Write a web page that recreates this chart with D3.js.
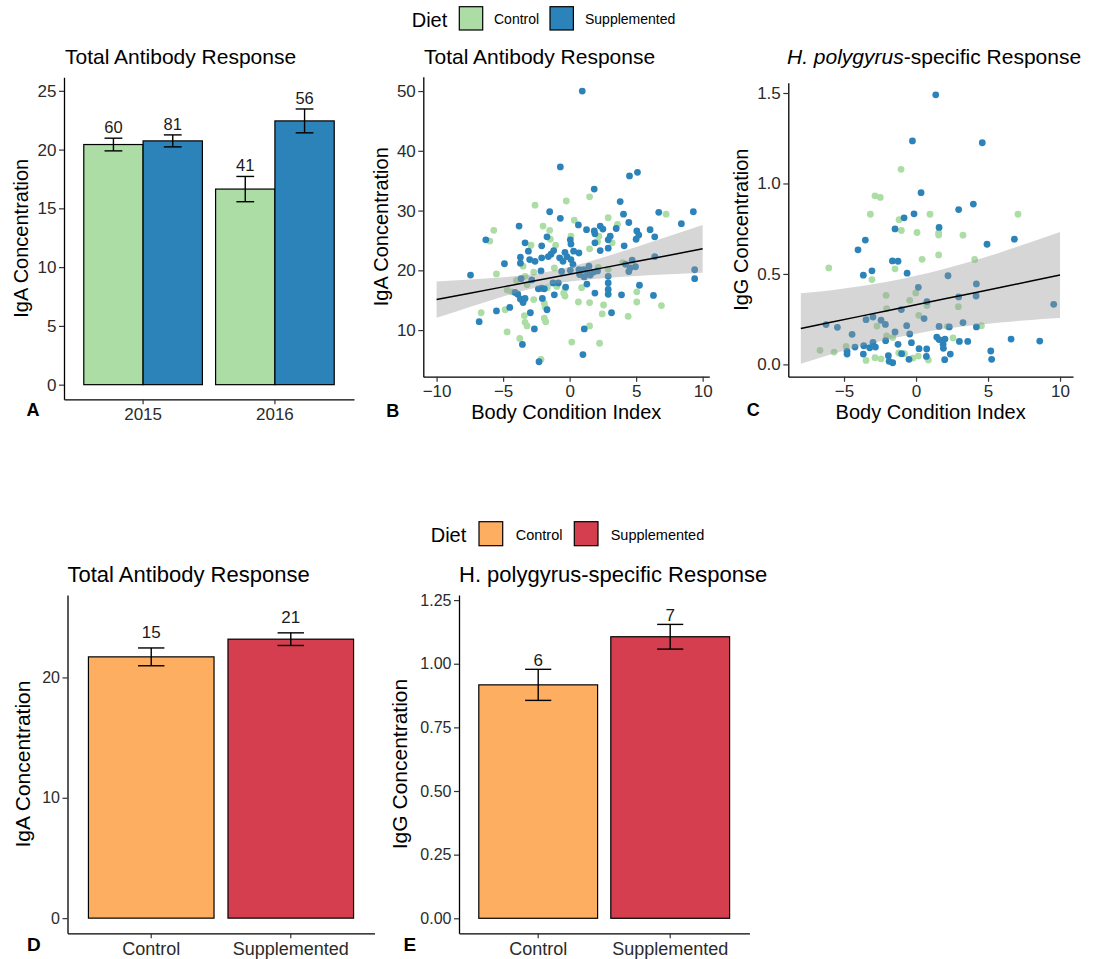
<!DOCTYPE html>
<html>
<head>
<meta charset="utf-8">
<script src="https://cdn.jsdelivr.net/npm/d3@7"></script>
<style>
  html, body { margin: 0; padding: 0; background: #fff; }
  svg text { font-family: "Liberation Sans", Arial, Helvetica, sans-serif; }
</style>
</head>
<body>
<svg id="fig" width="1093" height="959"></svg>
<script>
// ---------------- data ----------------
const years = ["2015", "2016"];
const diets = ["Control", "Supplemented"];

// Panel A: lab IgA by year and diet
const igaControlMean = [20.43, 16.64];
const igaControlSE   = [0.54, 1.075];
const igaControlN    = [60, 41];
const igaSuppMean    = [20.74, 22.44];
const igaSuppSE      = [0.51, 1.015];
const igaSuppN       = [81, 56];

// Panel B: IgA vs body condition index  [BCI, IgA]
const scatterIgaControl = [
  [-5.7,26.7],[-6.0,24.9],[-2.6,30.9],[-0.25,31.6],[1.5,32.3],[0.35,28.4],[2.9,28.8],[3.6,27.7],
  [7.25,29.4],[-2.0,27.4],[-1.5,26.7],[-1.45,25.2],[0.1,25.7],[2.2,25.7],[3.2,24.6],[-2.9,24.2],
  [-1.05,24.2],[1.5,23.6],[-1.15,20.4],[-2.7,19.7],[-3.35,19.0],[-5.5,19.4],[2.9,20.2],[4.0,21.3],
  [-4.0,18.3],[-3.2,17.6],[-1.67,17.1],[-0.96,17.3],[0.9,17.1],[-4.7,16.7],[-4.35,16.4],[-0.45,16.2],
  [-0.35,15.7],[-2.7,15.1],[-1.9,14.5],[-1.85,13.9],[0.66,14.7],[1.5,14.6],[2.55,14.2],[5.05,16.4],
  [5.05,14.7],[6.9,14.1],[-6.65,12.9],[-4.85,13.4],[-3.4,12.4],[-3.35,11.3],[-3.2,10.7],[-1.9,12.0],
  [-1.8,11.4],[2.45,12.7],[4.4,12.3],[1.5,10.7],[-4.7,9.7],[-3.75,8.6],[0.16,8.0],[2.25,7.8],
  [-2.15,5.1],[-3.5,20.7],[2.15,20.5],[-0.34,16.9],[2.1,24.8]
];
const scatterIgaSupp = [
  [0.95,50.0],[-0.7,37.3],[4.5,35.8],[5.1,36.4],[1.85,33.6],[3.8,31.5],[-1.5,29.8],[4.05,29.4],
  [6.7,29.7],[9.3,29.8],[-0.7,28.7],[4.45,28.0],[0.66,27.6],[8.4,27.8],[-3.8,27.4],[1.27,26.8],
  [1.85,26.6],[2.3,27.4],[2.5,26.9],[3.5,27.0],[6.05,26.8],[5.05,26.6],[5.2,25.9],[5.0,25.2],
  [6.4,25.6],[-6.3,25.1],[-1.7,25.6],[0.05,25.1],[0.1,24.4],[1.9,26.1],[1.9,24.6],[3.05,25.7],
  [2.9,25.1],[-3.35,24.6],[-2.1,24.1],[-1.2,23.3],[-1.4,22.7],[-3.1,23.2],[2.3,23.3],[2.9,23.7],
  [4.1,24.1],[0.3,23.2],[0.7,22.9],[-0.35,23.0],[6.4,22.3],[-3.7,22.2],[-3.0,21.8],[-2.6,21.5],
  [-2.1,22.1],[-1.6,22.3],[-0.75,22.1],[-0.2,22.3],[0.1,21.8],[-0.5,21.5],[0.25,21.0],[-4.9,21.1],
  [-3.7,21.2],[-7.45,19.2],[-2.15,19.9],[-0.6,19.8],[0.05,20.0],[0.7,20.1],[1.05,20.1],[1.45,20.7],
  [1.35,19.6],[1.55,19.2],[1.8,19.7],[2.1,19.9],[1.1,18.9],[0.75,19.3],[4.2,21.0],[4.55,20.4],
  [4.7,21.7],[4.95,20.6],[4.45,19.8],[2.9,19.0],[2.9,17.9],[2.9,16.8],[2.9,16.0],[5.25,17.5],
  [9.4,20.1],[9.4,18.6],[-3.65,18.6],[-2.85,18.4],[-1.25,17.9],[-0.85,17.9],[-0.3,17.2],[1.3,17.7],
  [1.9,16.2],[-4.1,16.3],[-3.9,16.0],[-2.35,16.9],[-2.1,17.0],[-1.9,16.9],[-1.15,15.9],[-3.7,15.2],
  [-3.5,14.6],[-3.35,15.3],[-2.05,15.3],[-1.7,13.4],[3.9,15.9],[6.3,15.8],[-5.5,13.2],[-4.5,13.8],
  [-2.95,12.9],[3.15,12.9],[-6.8,11.4],[-2.65,10.2],[1.1,10.2],[-3.55,7.6],[1.0,5.9],[-2.3,4.7]
];
// linear fit with 95% band for panel B
const igaFitX  = [-10, -7.5, -5, -2.5, 0, 2.5, 5, 7.5, 10];
const igaFitY  = [15.1, 16.16, 17.23, 18.29, 19.35, 20.41, 21.48, 22.54, 23.6];
const igaFitLo = [12.05, 13.87, 15.62, 17.14, 18.14, 18.68, 19.04, 19.33, 19.6];
const igaFitHi = [18.15, 18.45, 18.84, 19.44, 20.56, 22.14, 23.92, 25.75, 27.6];

// Panel C: H. polygyrus-specific IgG vs body condition index  [BCI, IgG]
const scatterIggControl = [
  [-1.04,1.078],[-2.85,0.932],[-2.48,0.923],[-3.17,0.83],[0.97,0.83],[7.08,0.83],[-1.18,0.80],
  [-1.02,0.74],[0.07,0.729],[1.57,0.727],[1.57,0.715],[3.26,0.714],[1.57,0.605],[0.42,0.581],
  [4.07,0.58],[-6.06,0.533],[-1.46,0.528],[-3.06,0.469],[-2.08,0.382],[-0.02,0.395],[-0.44,0.354],
  [0.76,0.325],[2.94,0.319],[-2.04,0.308],[0.19,0.271],[-2.71,0.212],[2.18,0.209],[4.54,0.214],
  [-2.04,0.157],[-1.62,0.148],[2.57,0.146],[-4.86,0.1],[-6.67,0.078],[-5.69,0.068],[0.86,0.024],
  [0.16,0.046],[-0.21,0.035],[-0.81,0.059],[-1.2,0.063],[-2.85,0.037],[-2.43,0.03],[-3.47,0.022]
];
const scatterIggSupp = [
  [1.37,1.49],[-0.25,1.235],[4.6,1.225],[0.35,0.949],[3.98,0.886],[2.96,0.856],[-0.14,0.832],
  [-0.83,0.81],[-1.46,0.749],[1.6,0.757],[-3.52,0.687],[6.83,0.692],[4.93,0.664],[-4.03,0.633],
  [-1.64,0.572],[-1.25,0.57],[-3.66,0.493],[-3.06,0.517],[-0.62,0.504],[2.22,0.49],[4.19,0.445],
  [0.16,0.426],[2.96,0.373],[4.17,0.378],[0.76,0.347],[9.56,0.332],[-1.02,0.303],[-2.99,0.262],
  [-3.47,0.247],[0.56,0.253],[-2.43,0.244],[-2.13,0.221],[3.26,0.231],[-6.25,0.22],[-5.46,0.205],
  [-0.65,0.214],[1.6,0.21],[2.31,0.207],[4.19,0.207],[-4.44,0.166],[-0.44,0.168],[-1.46,0.179],
  [1.44,0.151],[1.6,0.137],[2.01,0.14],[3.01,0.127],[3.59,0.127],[6.6,0.14],[8.59,0.129],
  [-2.11,0.131],[-1.25,0.111],[-2.99,0.122],[-3.63,0.103],[-2.82,0.096],[-3.22,0.092],[-4.24,0.096],
  [-4.79,0.072],[-4.79,0.057],[-3.66,0.057],[-0.32,0.12],[0.21,0.087],[0.74,0.085],[1.88,0.111],
  [1.9,0.089],[5.19,0.074],[5.25,0.028],[2.38,0.057],[1.99,0.026],[0.72,0.044],[-0.49,0.028],
  [-1.0,0.059],[-1.92,0.048],[-1.87,0.017],[-1.62,0.009]
];
const iggFitX  = [-8, -6, -4, -2, 0, 2, 4, 6, 8, 10];
const iggFitY  = [0.198, 0.231, 0.264, 0.297, 0.330, 0.363, 0.395, 0.428, 0.461, 0.494];
const iggFitLo = [0.003, 0.053, 0.098, 0.137, 0.170, 0.197, 0.217, 0.233, 0.246, 0.256];
const iggFitHi = [0.393, 0.409, 0.430, 0.457, 0.490, 0.529, 0.573, 0.623, 0.676, 0.732];

// Panels D and E: field experiment
const fieldIgaMean = [21.71, 23.18];
const fieldIgaSE   = [0.74, 0.525];
const fieldIgaN    = [15, 21];
const fieldIggMean = [0.917, 1.106];
const fieldIggSE   = [0.061, 0.0485];
const fieldIggN    = [6, 7];

// ---------------- drawing ----------------
const labColors   = { Control: "#abdda4", Supplemented: "#2b83ba" };
const fieldColors = { Control: "#fdae61", Supplemented: "#d53e4f" };

const svg = d3.select("#fig");

function styleAxis(g, fs) {
  g.attr("font-family", null).attr("font-size", null);
  g.select(".domain").attr("stroke", "#000").attr("stroke-width", 1.3);
  g.selectAll(".tick line").attr("stroke", "#333").attr("stroke-width", 1.2);
  g.selectAll(".tick text").attr("fill", "#2b2b2b").attr("font-size", fs);
}

function text(x, y, str, opts = {}) {
  const t = svg.append("text").attr("x", x).attr("y", y)
    .attr("font-size", opts.size || 20)
    .attr("fill", opts.fill || "#000")
    .attr("text-anchor", opts.anchor || "start")
    .text(str);
  if (opts.bold) t.attr("font-weight", "bold");
  return t;
}

function yTitle(x, y, str, size) {
  svg.append("text")
    .attr("transform", `translate(${x},${y}) rotate(-90)`)
    .attr("text-anchor", "middle")
    .attr("font-size", size)
    .attr("fill", "#000")
    .text(str);
}

// "Diet" legend: title, then one outlined key and label per diet
function legend(titleX, titleBase, colors, keyW, keyH, keyTop, keyXs, labelXs, labelBase, size) {
  text(titleX, titleBase, "Diet", { size: 20 });
  diets.forEach((d, i) => {
    svg.append("rect").attr("x", keyXs[i]).attr("y", keyTop)
      .attr("width", keyW).attr("height", keyH)
      .attr("fill", colors[d]).attr("stroke", "#000").attr("stroke-width", 1.2);
    text(labelXs[i], labelBase, d, { size: size });
  });
}

legend(411.7, 26.5, labColors, 23.4, 23.3, 6.7, [459.3, 550], [494, 585], 23.5, 14);
legend(430.7, 541.7, fieldColors, 23.7, 24, 521.7, [479, 574.3], [515.7, 610.7], 539.5, 14.5);

// bar panels with standard-error bars and sample sizes
function barPanel(cfg) {
  const x = d3.scaleBand().domain(cfg.cats).range(cfg.xr).paddingInner(0.1).paddingOuter(0.15);
  const y = d3.scaleLinear().domain(cfg.yd).range(cfg.yr);
  const sub = d3.scaleBand().domain(cfg.groups).range([0, x.bandwidth()]);
  const g = svg.append("g");
  cfg.rows.forEach(r => {
    const bx = x(r.cat) + sub(r.group);
    const bw = sub.bandwidth();
    const cx = bx + bw / 2;
    g.append("rect").attr("x", bx).attr("y", y(r.mean))
      .attr("width", bw).attr("height", y(0) - y(r.mean))
      .attr("fill", cfg.colors[r.color]).attr("stroke", "#000").attr("stroke-width", 1.2);
    const cw = bw * cfg.capFrac / 2;
    const top = y(r.mean + r.se), bot = y(r.mean - r.se);
    g.append("line").attr("x1", cx).attr("x2", cx).attr("y1", top).attr("y2", bot)
      .attr("stroke", "#000").attr("stroke-width", 1.4);
    [top, bot].forEach(v => g.append("line").attr("x1", cx - cw).attr("x2", cx + cw)
      .attr("y1", v).attr("y2", v).attr("stroke", "#000").attr("stroke-width", 1.4));
    g.append("text").attr("x", cx).attr("y", top - cfg.labelGap)
      .attr("text-anchor", "middle").attr("font-size", cfg.labelSize).attr("fill", "#1a1a1a")
      .text(r.n);
  });
  const ax = svg.append("g").attr("transform", `translate(${cfg.xr[0]},0)`)
    .call(d3.axisLeft(y).tickValues(cfg.yticks).tickFormat(cfg.yfmt).tickSize(5).tickPadding(2.5).tickSizeOuter(0));
  styleAxis(ax, cfg.ytickSize);
  const bx = svg.append("g").attr("transform", `translate(0,${cfg.yr[0]})`)
    .call(d3.axisBottom(x).tickSize(5).tickPadding(3.5).tickSizeOuter(0));
  styleAxis(bx, cfg.xtickSize);
}

// Panel A
barPanel({
  cats: years, groups: diets, xr: [64, 354], yd: [-1.245, 26.15], yr: [399.3, 77.3],
  colors: labColors, capFrac: 0.3, labelGap: 5, labelSize: 16.5,
  yticks: [0, 5, 10, 15, 20, 25], yfmt: d3.format("d"), ytickSize: 17, xtickSize: 17,
  rows: years.flatMap((yr, i) => [
    { cat: yr, group: "Control", color: "Control", mean: igaControlMean[i], se: igaControlSE[i], n: igaControlN[i] },
    { cat: yr, group: "Supplemented", color: "Supplemented", mean: igaSuppMean[i], se: igaSuppSE[i], n: igaSuppN[i] }
  ])
});
text(65, 63.5, "Total Antibody Response", { size: 21 });
yTitle(27.6, 238.3, "IgA Concentration", 20);
text(26.5, 415.5, "A", { size: 18, bold: true });

// Panel D
barPanel({
  cats: diets, groups: ["all"], xr: [67.5, 374.5], yd: [-1.26, 26.85], yr: [933.3, 595],
  colors: fieldColors, capFrac: 0.21, labelGap: 9.6, labelSize: 17,
  yticks: [0, 10, 20], yfmt: d3.format("d"), ytickSize: 16, xtickSize: 18,
  rows: diets.map((d, i) => ({ cat: d, group: "all", color: d, mean: fieldIgaMean[i], se: fieldIgaSE[i], n: fieldIgaN[i] }))
});
text(67.5, 581.7, "Total Antibody Response", { size: 22 });
yTitle(30, 764, "IgA Concentration", 21);
text(27, 950.5, "D", { size: 19, bold: true });

// Panel E
barPanel({
  cats: diets, groups: ["all"], xr: [459, 749.4], yd: [-0.059, 1.27], yr: [933.3, 595],
  colors: fieldColors, capFrac: 0.22, labelGap: 3.3, labelSize: 17,
  yticks: [0, 0.25, 0.5, 0.75, 1.0, 1.25], yfmt: d3.format(".2f"), ytickSize: 16, xtickSize: 18,
  rows: diets.map((d, i) => ({ cat: d, group: "all", color: d, mean: fieldIggMean[i], se: fieldIggSE[i], n: fieldIggN[i] }))
});
text(459, 581.7, "H. polygyrus-specific Response", { size: 22 });
yTitle(406.5, 764, "IgG Concentration", 21);
text(403.5, 950.5, "E", { size: 19, bold: true });

// scatter panels: points, then the shaded confidence band and fitted line
function scatterPanel(cfg) {
  const x = d3.scaleLinear().domain(cfg.xd).range(cfg.xr);
  const y = d3.scaleLinear().domain(cfg.yd).range(cfg.yr);
  const g = svg.append("g");
  [["Control", cfg.ctrl], ["Supplemented", cfg.supp]].forEach(([d, pts]) => {
    g.selectAll(null).data(pts).enter().append("circle")
      .attr("cx", p => x(p[0])).attr("cy", p => y(p[1])).attr("r", 3.4)
      .attr("fill", labColors[d]);
  });
  const fit = cfg.fitX.map((v, i) => ({ x: v, y: cfg.fitY[i], lo: cfg.fitLo[i], hi: cfg.fitHi[i] }));
  g.append("path").datum(fit)
    .attr("d", d3.area().x(d => x(d.x)).y0(d => y(d.lo)).y1(d => y(d.hi)).curve(d3.curveNatural))
    .attr("fill", "#999999").attr("fill-opacity", 0.4);
  g.append("path").datum(fit)
    .attr("d", d3.line().x(d => x(d.x)).y(d => y(d.y)))
    .attr("fill", "none").attr("stroke", "#000").attr("stroke-width", 1.5);
  const ax = svg.append("g").attr("transform", `translate(${cfg.xr[0]},0)`)
    .call(d3.axisLeft(y).tickValues(cfg.yticks).tickFormat(cfg.yfmt).tickSize(5).tickPadding(2.5).tickSizeOuter(0));
  styleAxis(ax, 17);
  const bx = svg.append("g").attr("transform", `translate(0,${cfg.yr[0]})`)
    .call(d3.axisBottom(x).tickValues(cfg.xticks).tickFormat(d3.format("d")).tickSize(5).tickPadding(3).tickSizeOuter(0));
  styleAxis(bx, 17);
  text((cfg.xr[0] + cfg.xr[1]) / 2, 419.3, "Body Condition Index", { size: 20, anchor: "middle" });
}

// Panel B
scatterPanel({
  xd: [-11, 10.5], xr: [423.3, 709.3], yd: [2.2, 52.4], yr: [376.7, 76.7],
  ctrl: scatterIgaControl, supp: scatterIgaSupp,
  fitX: igaFitX, fitY: igaFitY, fitLo: igaFitLo, fitHi: igaFitHi,
  yticks: [10, 20, 30, 40, 50], yfmt: d3.format("d"), xticks: [-10, -5, 0, 5, 10]
});
text(424, 63.5, "Total Antibody Response", { size: 21 });
yTitle(387.5, 226.7, "IgA Concentration", 20);
text(386.2, 416.5, "B", { size: 18, bold: true });

// Panel C
scatterPanel({
  xd: [-8.87, 10.9], xr: [788.3, 1073], yd: [-0.068, 1.557], yr: [376.7, 82.7],
  ctrl: scatterIggControl, supp: scatterIggSupp,
  fitX: iggFitX, fitY: iggFitY, fitLo: iggFitLo, fitHi: iggFitHi,
  yticks: [0, 0.5, 1.0, 1.5], yfmt: d3.format(".1f"), xticks: [-5, 0, 5, 10]
});
const ct = text(787, 63.5, "", { size: 21 });
ct.append("tspan").attr("font-style", "italic").text("H. polygyrus");
ct.append("tspan").text("-specific Response");
yTitle(747.5, 229.7, "IgG Concentration", 20);
text(746.8, 415.5, "C", { size: 18, bold: true });
</script>
</body>
</html>
